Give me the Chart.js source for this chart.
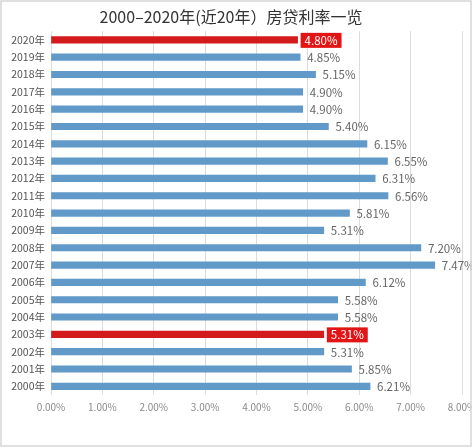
<!DOCTYPE html>
<html>
<head>
<meta charset="utf-8">
<script src="https://cdn.jsdelivr.net/npm/chart.js@4/dist/chart.umd.min.js"></script>
<style>
  html, body { margin: 0; padding: 0; background: #fff; }
  #wrap { width: 472px; height: 448px; }
</style>
</head>
<body>
<div id="wrap"><canvas id="pCanvas" width="472" height="448"></canvas></div>
<script>
const years = [ "2020年", "2019年", "2018年", "2017年", "2016年", "2015年", "2014年",
  "2013年", "2012年", "2011年", "2010年", "2009年", "2008年", "2007年", "2006年",
  "2005年", "2004年", "2003年", "2002年", "2001年", "2000年" ];
const rates = [ 4.80, 4.85, 5.15, 4.90, 4.90, 5.40, 6.15, 6.55, 6.31, 6.56, 5.81,
  5.31, 7.20, 7.47, 6.12, 5.58, 5.58, 5.31, 5.31, 5.85, 6.21 ];
const highlighted = [ "2020年", "2003年" ];
const titleText = "2000–2020年(近20年）房贷利率一览";

const BLUE = "#6199c9";
const RED = "#d31b1e";

const ctx = document.getElementById( "pCanvas" ).getContext( "2d" );
const FONT = "'Noto Sans CJK SC', 'Noto Sans', sans-serif";

// value labels at the end of each bar
const valueLabels = {
  id: "valueLabels",
  afterDatasetsDraw ( chart ) {
    const c = chart.ctx;
    const meta = chart.getDatasetMeta( 0 );
    c.save();
    c.font = "11.5px " + FONT;
    c.textBaseline = "middle";
    meta.data.forEach( ( bar, i ) => {
      const txt = rates[ i ].toFixed( 2 ) + "%";
      const x = bar.x + 7;
      const y = bar.y + 0.5;
      if ( highlighted.includes( years[ i ] ) ) {
        const w = c.measureText( txt ).width;
        c.fillStyle = "#e31414";
        c.fillRect( x - 4, y - 7.5, w + 8, 15 );
        c.fillStyle = "#ffffff";
      } else {
        c.fillStyle = "#666";
      }
      c.fillText( txt, x, y );
    } );
    c.restore();
  }
};

// thin frame round the picture
const frame = {
  id: "frame",
  afterDraw ( chart ) {
    const c = chart.ctx;
    c.save();
    c.strokeStyle = "#d6d6d6";
    c.lineWidth = 1.5;
    c.strokeRect( 1, 1, chart.width - 2, chart.height - 3 );
    c.restore();
  }
};

new Chart( ctx, {
  type: "bar",
  data: {
    labels: years,
    datasets: [ {
      data: rates,
      backgroundColor: years.map( y => highlighted.includes( y ) ? RED : BLUE ),
      barThickness: 6.5,
      borderWidth: 0
    } ]
  },
  options: {
    indexAxis: "y",
    responsive: false,
    animation: false,
    devicePixelRatio: 1,
    layout: { padding: { left: 0, right: 10, top: 0, bottom: 33 } },
    plugins: {
      legend: { display: false },
      tooltip: { enabled: false },
      title: {
        display: true,
        text: titleText,
        color: "#333",
        font: { family: FONT, size: 16, weight: "normal" },
        padding: { top: 7, bottom: 5 }
      }
    },
    scales: {
      x: {
        min: 0,
        max: 8,
        ticks: {
          stepSize: 1,
          color: "#8a8a8a",
          font: { family: FONT, size: 10 },
          padding: 6,
          callback: v => v.toFixed( 2 ) + "%"
        },
        grid: { color: "#dcdcdc", drawTicks: false },
        border: { display: false },
        afterFit ( s ) { s.height = 20; s.paddingRight = 0; s.paddingLeft = 0; }
      },
      y: {
        ticks: {
          color: "#555",
          font: { family: FONT, size: 10.5 },
          padding: 6
        },
        grid: { display: false, drawTicks: false },
        border: { display: false },
        afterFit ( s ) { s.width = 51; }
      }
    }
  },
  plugins: [ valueLabels, frame ]
} );
</script>
</body>
</html>
